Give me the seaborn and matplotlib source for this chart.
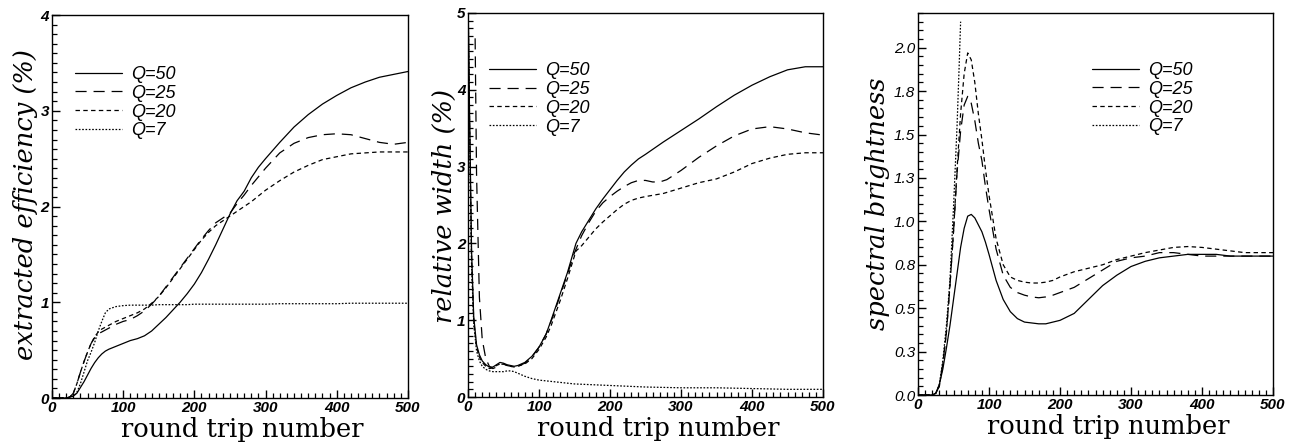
import numpy as np
import pandas as pd
import matplotlib
matplotlib.use("Agg")
import matplotlib.pyplot as plt
from matplotlib.ticker import MultipleLocator, FixedLocator, FixedFormatter
from matplotlib.font_manager import FontProperties
import seaborn as sns

# ---- panel (a): extracted efficiency (%) ----
eff_x = [0, 20, 25, 30, 35, 40, 45, 50, 55, 60, 65, 70, 75, 80, 90, 100, 110, 120, 130, 140,
         150, 160, 170, 180, 190, 200, 210, 220, 230, 240, 250, 260, 270, 280, 290, 300,
         320, 340, 360, 380, 400, 420, 440, 460, 480, 500]
eff_q50 = [0, 0, 0.01, 0.02, 0.05, 0.11, 0.17, 0.24, 0.31, 0.37, 0.42, 0.46, 0.49, 0.51, 0.54,
           0.57, 0.60, 0.62, 0.65, 0.70, 0.77, 0.84, 0.92, 1.00, 1.09, 1.19, 1.31, 1.45, 1.60,
           1.76, 1.92, 2.06, 2.16, 2.30, 2.41, 2.50, 2.67, 2.83, 2.96, 3.07, 3.16, 3.24, 3.30,
           3.35, 3.38, 3.41]
eff_q25 = [0, 0, 0.01, 0.05, 0.15, 0.27, 0.38, 0.48, 0.57, 0.63, 0.67, 0.69, 0.71, 0.73, 0.77,
           0.80, 0.82, 0.86, 0.91, 0.98, 1.06, 1.16, 1.26, 1.36, 1.46, 1.56, 1.66, 1.75, 1.83,
           1.88, 1.93, 2.03, 2.12, 2.22, 2.31, 2.40, 2.56, 2.66, 2.72, 2.75, 2.76, 2.75, 2.71,
           2.67, 2.65, 2.67]
eff_q20 = [0, 0, 0.01, 0.05, 0.15, 0.27, 0.38, 0.48, 0.57, 0.64, 0.69, 0.72, 0.74, 0.76, 0.80,
           0.83, 0.86, 0.89, 0.93, 0.99, 1.06, 1.15, 1.25, 1.35, 1.45, 1.55, 1.65, 1.73, 1.80,
           1.85, 1.90, 1.95, 2.00, 2.05, 2.11, 2.17, 2.27, 2.36, 2.43, 2.49, 2.52, 2.55, 2.56,
           2.57, 2.57, 2.57]
eff_q7 = [0, 0, 0.01, 0.02, 0.06, 0.15, 0.27, 0.39, 0.48, 0.58, 0.70, 0.80, 0.89, 0.93, 0.955,
          0.965, 0.97, 0.97, 0.97, 0.97, 0.975, 0.975, 0.975, 0.975, 0.975, 0.98, 0.98, 0.98,
          0.98, 0.98, 0.98, 0.98, 0.98, 0.98, 0.98, 0.98, 0.985, 0.985, 0.985, 0.985, 0.985,
          0.99, 0.99, 0.99, 0.99, 0.99]

# ---- panel (b): relative width (%) ----
wid_x = [0, 2, 5, 8, 12, 16, 20, 25, 30, 35, 40, 45, 50, 55, 60, 65, 70, 80, 90, 100, 110, 117,
         130, 140, 152, 160, 170, 180, 190, 200, 210, 220, 230, 240, 250, 275, 300, 325, 350,
         375, 400, 425, 450, 475, 500]
wid_q50 = [5.2, 3.8, 1.9, 1.05, 0.68, 0.55, 0.47, 0.42, 0.39, 0.39, 0.42, 0.45, 0.44, 0.42,
           0.41, 0.40, 0.41, 0.45, 0.53, 0.65, 0.82, 1.00, 1.35, 1.62, 2.00, 2.15, 2.30, 2.45,
           2.58, 2.70, 2.82, 2.93, 3.02, 3.10, 3.16, 3.32, 3.47, 3.62, 3.78, 3.93, 4.06, 4.17,
           4.26, 4.30, 4.30]
wid_q20 = [5.2, 3.7, 1.8, 1.0, 0.65, 0.52, 0.45, 0.40, 0.37, 0.38, 0.41, 0.43, 0.43, 0.41,
           0.40, 0.39, 0.40, 0.43, 0.50, 0.62, 0.78, 0.93, 1.26, 1.54, 1.90, 1.97, 2.08, 2.19,
           2.28, 2.36, 2.44, 2.51, 2.56, 2.59, 2.61, 2.65, 2.72, 2.79, 2.84, 2.93, 3.04, 3.11,
           3.16, 3.18, 3.18]
wid_q25_x = [10, 12, 16, 20, 25, 30, 35, 40, 45, 50, 55, 60, 65, 70, 80, 90, 100, 110, 120,
             130, 140, 150, 160, 170, 180, 190, 200, 210, 220, 230, 240, 250, 260, 270, 280,
             300, 325, 350, 375, 400, 425, 450, 475, 500]
wid_q25 = [4.67, 2.9, 1.3, 0.75, 0.50, 0.40, 0.37, 0.39, 0.42, 0.43, 0.41, 0.40, 0.39, 0.40,
           0.44, 0.52, 0.65, 0.82, 1.06, 1.33, 1.60, 1.88, 2.10, 2.27, 2.42, 2.53, 2.61, 2.68,
           2.74, 2.79, 2.82, 2.82, 2.80, 2.80, 2.83, 2.95, 3.12, 3.27, 3.40, 3.49, 3.52, 3.49,
           3.44, 3.41]
wid_q7_x = [0, 2, 5, 8, 12, 16, 20, 25, 30, 35, 40, 45, 50, 55, 60, 65, 70, 80, 90, 100, 120,
            150, 200, 250, 300, 350, 400, 450, 500]
wid_q7 = [5.2, 3.6, 1.7, 0.95, 0.60, 0.47, 0.40, 0.36, 0.34, 0.33, 0.33, 0.33, 0.33, 0.34,
          0.34, 0.33, 0.31, 0.27, 0.24, 0.22, 0.20, 0.17, 0.15, 0.13, 0.12, 0.12, 0.11, 0.10,
          0.10]

# ---- panel (c): spectral brightness ----
spb_x = [0, 20, 25, 30, 35, 40, 45, 50, 55, 60, 65, 70, 75, 80, 85, 90, 95, 100, 110, 120,
         130, 140, 150, 160, 170, 180, 190, 200, 220, 240, 260, 280, 300, 320, 340, 360, 380,
         400, 420, 440, 460, 480, 500]
spb_q50 = [0, 0, 0.01, 0.06, 0.15, 0.27, 0.40, 0.55, 0.70, 0.85, 0.96, 1.03, 1.04, 1.02,
           0.98, 0.94, 0.88, 0.81, 0.66, 0.55, 0.48, 0.44, 0.42, 0.415, 0.41, 0.41, 0.42, 0.43,
           0.47, 0.55, 0.63, 0.69, 0.74, 0.77, 0.79, 0.80, 0.81, 0.81, 0.81, 0.80, 0.80, 0.80,
           0.80]
spb_q25 = [0, 0, 0.01, 0.05, 0.18, 0.36, 0.63, 0.94, 1.28, 1.52, 1.67, 1.72, 1.68, 1.58,
           1.45, 1.35, 1.20, 1.07, 0.84, 0.69, 0.62, 0.59, 0.575, 0.565, 0.56, 0.565, 0.575,
           0.59, 0.62, 0.67, 0.72, 0.77, 0.79, 0.80, 0.82, 0.82, 0.81, 0.80, 0.80, 0.80, 0.80,
           0.80, 0.80]
spb_q20 = [0, 0, 0.01, 0.05, 0.18, 0.36, 0.63, 0.94, 1.30, 1.62, 1.85, 1.97, 1.93, 1.80,
           1.62, 1.47, 1.30, 1.15, 0.90, 0.75, 0.68, 0.66, 0.65, 0.645, 0.645, 0.65, 0.66,
           0.68, 0.71, 0.73, 0.75, 0.78, 0.80, 0.82, 0.835, 0.85, 0.855, 0.85, 0.84, 0.83,
           0.82, 0.82, 0.82]
spb_q7_x = [0, 20, 25, 30, 35, 40, 45, 50, 55, 58, 60]
spb_q7 = [0, 0, 0.01, 0.06, 0.20, 0.40, 0.66, 1.08, 1.55, 1.90, 2.15]

spb_ticks = [0, 0.25, 0.5, 0.75, 1.0, 1.25, 1.5, 1.75, 2.0]
spb_ticklabels = ["0.0", "0.3", "0.5", "0.8", "1.0", "1.3", "1.5", "1.8", "2.0"]

labels = ["Q=50", "Q=25", "Q=20", "Q=7"]
styles = ["-", (0, (8, 5)), (0, (3.2, 2.4)), (0, (1.2, 1.2))]

sns.set_style("ticks")
plt.rcParams.update({
    "lines.scale_dashes": False,
    "xtick.direction": "in",
    "ytick.direction": "in",
    "xtick.color": "black",
    "ytick.color": "black",
    "text.color": "black",
    "axes.labelcolor": "black",
    "axes.linewidth": 1.0,
    "axes.edgecolor": "black",
})

fig = plt.figure(figsize=(12.99, 4.42), dpi=100)
ax1 = fig.add_axes([0.0400, 0.0995, 0.2740, 0.8665])
ax2 = fig.add_axes([0.3603, 0.1018, 0.2733, 0.8688])
ax3 = fig.add_axes([0.7067, 0.1063, 0.2733, 0.8643])

tick_bold = FontProperties(family="Liberation Sans", style="italic", weight="bold", size=11)
tick_plain = FontProperties(family="Liberation Sans", style="italic", size=11)
leg_font = dict(family="Liberation Sans", style="italic", size=13)


def draw(ax, series):
    for (xs, ys), lab, ls in zip(series, labels, styles):
        sns.lineplot(x=xs, y=ys, ax=ax, color="black", linewidth=0.9,
                     linestyle=ls, label=lab, sort=False)


draw(ax1, [(eff_x, eff_q50), (eff_x, eff_q25), (eff_x, eff_q20), (eff_x, eff_q7)])
draw(ax2, [(wid_x, wid_q50), (wid_q25_x, wid_q25), (wid_x, wid_q20), (wid_q7_x, wid_q7)])
draw(ax3, [(spb_x, spb_q50), (spb_x, spb_q25), (spb_x, spb_q20), (spb_q7_x, spb_q7)])

ax1.set_ylim(0, 4)
ax1.yaxis.set_major_locator(MultipleLocator(1))
ax1.yaxis.set_minor_locator(MultipleLocator(0.1))
ax2.set_ylim(0, 5)
ax2.yaxis.set_major_locator(MultipleLocator(1))
ax2.yaxis.set_minor_locator(MultipleLocator(0.1))
ax3.set_ylim(0, 2.2)
ax3.yaxis.set_major_locator(FixedLocator(spb_ticks))
ax3.yaxis.set_major_formatter(FixedFormatter(spb_ticklabels))
ax3.yaxis.set_minor_locator(MultipleLocator(0.05))

ylabels = ["extracted efficiency (%)", "relative width (%)", "spectral brightness"]
ylabel_pos = [(-0.04, 0.504), (-0.03, 0.498), (-0.08, 0.5)]
leg_anchor = [(0.065, 0.867), (0.06, 0.872), (0.49, 0.872)]

for ax, yl, ypos, anc in zip([ax1, ax2, ax3], ylabels, ylabel_pos, leg_anchor):
    ax.set_xlim(0, 500)
    ax.xaxis.set_major_locator(MultipleLocator(100))
    ax.xaxis.set_minor_locator(MultipleLocator(10))
    ax.tick_params(which="major", length=6, width=1.0, pad=2, top=False, right=False)
    ax.tick_params(which="minor", length=3.5, width=0.9, top=False, right=False)
    for lab in ax.get_xticklabels():
        lab.set_fontproperties(tick_bold)
    for lab in ax.get_yticklabels():
        lab.set_fontproperties(tick_plain if ax is ax3 else tick_bold)
    for side in ["top", "right", "left", "bottom"]:
        ax.spines[side].set_visible(True)
    ax.set_xlabel("round trip number", family="DejaVu Serif", size=18.5)
    ax.xaxis.set_label_coords(0.535, -0.05)
    ax.set_ylabel(yl, family="DejaVu Serif", style="italic", size=18.5)
    ax.yaxis.set_label_coords(*ypos)
    leg = ax.legend(loc="upper left", bbox_to_anchor=anc, frameon=False, prop=leg_font,
                    handlelength=2.6, handletextpad=0.5, labelspacing=0.1,
                    borderpad=0, borderaxespad=0)
    for t in leg.get_texts():
        t.set_color("black")

fig.savefig("out.png", dpi=100)
